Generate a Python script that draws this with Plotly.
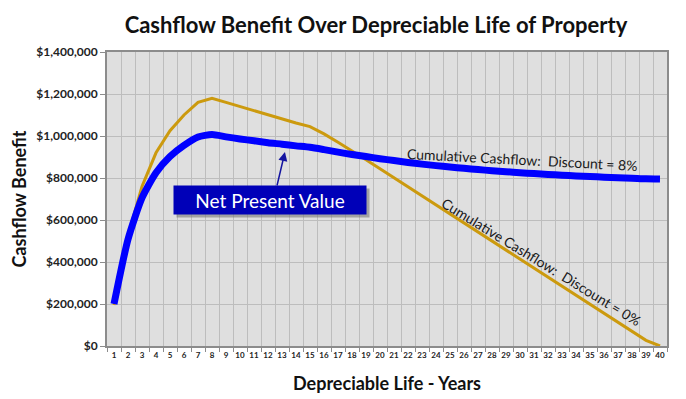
import plotly.graph_objects as go

years = list(range(1, 41))
cumulative_0 = [195000, 525000, 760000, 920000, 1025000, 1100000, 1160000, 1180000,
                1160000, 1140000, 1120000, 1100000, 1080000, 1062000, 1045000, 1010000,
                970000, 930000, 887000, 844000, 801000, 758000, 715000, 672000,
                629000, 586000, 543000, 500000, 457000, 414000, 371000, 328000,
                285000, 242000, 199000, 156000, 113000, 70000, 27000, 0]
npv_8 = [200000, 508000, 705000, 825000, 902000, 955000, 995000, 1007000,
         996000, 986000, 977000, 968000, 961000, 953000, 946000, 935000,
         923000, 912000, 902000, 892000, 883000, 874000, 866000, 859000,
         852000, 846000, 840000, 835000, 830000, 825000, 821000, 817000,
         813000, 810000, 807000, 804000, 801000, 799000, 796000, 795000]
y_ticks = [0, 200000, 400000, 600000, 800000, 1000000, 1200000, 1400000]
y_labels = ["$0", "$200,000", "$400,000", "$600,000", "$800,000",
            "$1,000,000", "$1,200,000", "$1,400,000"]
x_labels = [str(y) for y in years]

FONT = "Lato"
fig = go.Figure()
fig.add_trace(go.Scatter(x=years, y=cumulative_0, mode="lines",
                         line=dict(color="#CC9A0E", width=3),
                         name="Cumulative Cashflow: Discount = 0%"))
fig.add_trace(go.Scatter(x=years, y=npv_8, mode="lines",
                         line=dict(color="#0000FF", width=7, shape="spline", smoothing=0.6),
                         name="Cumulative Cashflow: Discount = 8%"))

fig.update_layout(
    width=686, height=399,
    margin=dict(l=99, r=27, t=44, b=61, autoexpand=False),
    paper_bgcolor="white", plot_bgcolor="#DFDFDF",
    showlegend=False,
    title=dict(text="Cashflow Benefit Over Depreciable Life of Property",
               x=0.5364, xanchor="center", y=0.957, yanchor="middle",
               font=dict(family=FONT, size=22, color="#111111", weight="bold")),
    font=dict(family=FONT, color="#111111"),
)
fig.update_xaxes(
    automargin=False,
    range=[0.5, 40.5], tickmode="array", tickvals=years, ticktext=x_labels,
    tickfont=dict(family=FONT, size=8, weight="bold", color="#222222"),
    showgrid=False, ticks="", zeroline=False,
    showline=True, linecolor="#8C8C8C", linewidth=2, mirror=True,
    minor=dict(tickmode="linear", tick0=0.5, dtick=1, showgrid=True,
               gridcolor="#BDBDBD", gridwidth=1, ticks="outside", ticklen=4,
               tickcolor="#8C8C8C"),
    title=dict(text="Depreciable Life - Years", standoff=19,
               font=dict(family=FONT, size=18, weight="bold", color="#111111")),
)
fig.update_yaxes(
    automargin=False,
    range=[0, 1400000], tickmode="array", tickvals=y_ticks, ticktext=y_labels,
    tickfont=dict(family=FONT, size=12, weight="bold", color="#222222"),
    showgrid=True, gridcolor="#BDBDBD", gridwidth=1, zeroline=False,
    ticks="outside", ticklen=5, tickcolor="#8C8C8C",
    showline=True, linecolor="#8C8C8C", linewidth=2, mirror=True,
    title=dict(text="Cashflow Benefit", standoff=6,
               font=dict(family=FONT, size=18, weight="bold", color="#111111")),
)

# labels on lines
fig.add_annotation(x=30.2, y=890000, text="Cumulative Cashflow:  Discount = 8%",
                   showarrow=False, textangle=3,
                   font=dict(family=FONT, size=14, color="#1a1a1a"))
fig.add_annotation(x=31.5, y=401000, text="Cumulative Cashflow:  Discount = 0%",
                   showarrow=False, textangle=31.5,
                   font=dict(family=FONT, size=14, color="#1a1a1a"))

# Net Present Value callout (shadow + box + arrow)
fig.add_annotation(x=12.14, y=694000, text="", showarrow=False,
                   width=190, height=26, bgcolor="#7a7a7a", xshift=3, yshift=-3,
                   opacity=0.6)
fig.add_annotation(x=12.14, y=694000, text="Net Present Value", showarrow=False,
                   width=190, height=26, bgcolor="#0000B8",
                   font=dict(family=FONT, size=19, color="white"))
fig.add_annotation(x=13.21, y=924000, ax=12.62, ay=757000, axref="x", ayref="y",
                   text="", showarrow=True, arrowhead=2, arrowsize=1.2,
                   arrowwidth=1.5, arrowcolor="#1414A0")

fig.write_html("out.html")
